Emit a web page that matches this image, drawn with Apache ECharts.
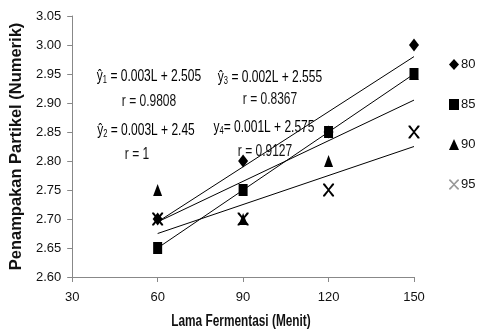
<!DOCTYPE html>
<html>
<head>
<meta charset="utf-8">
<script src="https://cdn.jsdelivr.net/npm/echarts@6/dist/echarts.min.js"></script>
<style>html,body{margin:0;padding:0;background:#fff}#c{width:477px;height:336px}</style>
</head>
<body>
<div id="c"></div>
<script>
// ---- data ----
const xValues = [60, 90, 120, 150];
const seriesNames = ['80', '85', '90', '95'];
const s80 = [2.70, 2.80, 2.85, 3.00];
const s85 = [2.65, 2.75, 2.85, 2.95];
const s90 = [2.75, 2.70, 2.80, 2.95];
const s95 = [2.70, 2.70, 2.75, 2.85];
const eqHat = ['ŷ', 'ŷ', 'ŷ', 'y'];
const eqSub = ['1', '2', '3', '4'];
const eqBody = [' = 0.003L + 2.505', ' = 0.003L + 2.45', ' = 0.002L + 2.555', '= 0.001L + 2.575'];
const rLabels = ['r = 0.9808', 'r = 1', 'r = 0.8367', 'r = 0.9127'];
const xTitle = 'Lama Fermentasi (Menit)';
const yTitle = 'Penampakan Partikel (Numerik)';

const allSeries = [s80, s85, s90, s95];
const FONT = '"Liberation Sans", Arial, sans-serif';

// least-squares trend line through each series (drawn between first and last x)
function trend(ys) {
  const n = xValues.length;
  const mx = xValues.reduce((a, b) => a + b, 0) / n;
  const my = ys.reduce((a, b) => a + b, 0) / n;
  let sxy = 0, sxx = 0;
  for (let i = 0; i < n; i++) { sxy += (xValues[i] - mx) * (ys[i] - my); sxx += (xValues[i] - mx) ** 2; }
  const b = sxy / sxx, a = my - b * mx;
  const x0 = xValues[0], x1 = xValues[n - 1];
  return [[x0, a + b * x0], [x1, a + b * x1]];
}

const xPath = 'path://M0,0L1.6,0L5,3.8L8.4,0L10,0L10,0.9L5.9,5L10,9.1L10,10L8.4,10L5,6.2L1.6,10L0,10L0,9.1L4.1,5L0,0.9Z';
const symbols = ['diamond', 'rect', 'triangle', xPath];
const sizes = [[10, 13], [9, 12], [9, 12], [11, 13]];

const series = [];
allSeries.forEach((ys, i) => {
  series.push({
    name: 't' + i, type: 'line', data: trend(ys), showSymbol: false, symbol: 'none',
    lineStyle: { color: '#000', width: 1 }, silent: true, z: 1
  });
});
allSeries.forEach((ys, i) => {
  series.push({
    name: seriesNames[i], type: 'scatter', symbol: symbols[i], symbolSize: sizes[i],
    data: xValues.map((x, k) => [x, ys[k]]),
    itemStyle: { color: '#000', opacity: 1 }, z: 3
  });
});

const eqPos = [[149, 77], [146, 131], [270, 78], [264, 128]];
const rPos = [[149, 102], [137, 155], [270, 100], [265, 152]];
const rich = {
  a: { fontFamily: FONT, fontSize: 16, color: '#111', lineHeight: 17 },
  s: { fontFamily: FONT, fontSize: 10, color: '#111', lineHeight: 10, verticalAlign: 'bottom' }
};
const graphics = [];
for (let i = 0; i < 4; i++) {
  graphics.push({
    type: 'text', x: eqPos[i][0], y: eqPos[i][1], scaleX: 0.75, z: 10,
    style: { text: '{a|' + eqHat[i] + '}{s|' + eqSub[i] + '}{a|' + eqBody[i] + '}', rich: rich, align: 'center', verticalAlign: 'middle' }
  });
  graphics.push({
    type: 'text', x: rPos[i][0], y: rPos[i][1], scaleX: 0.75, z: 10,
    style: { text: rLabels[i], font: '16px ' + FONT, fill: '#111', align: 'center', verticalAlign: 'middle' }
  });
}
graphics.push({
  type: 'text', x: 241, y: 322, scaleX: 0.74, z: 10,
  style: { text: xTitle, font: 'bold 16px ' + FONT, fill: '#111', align: 'center', verticalAlign: 'middle' }
});

const chart = echarts.init(document.getElementById('c'), null, { renderer: 'canvas' });
chart.setOption({
  animation: false,
  backgroundColor: '#fff',
  grid: { left: 68, right: 63, top: 16, bottom: 59, containLabel: false },
  xAxis: {
    type: 'value', min: 30, max: 150, interval: 30,
    axisLine: { show: true, lineStyle: { color: '#888', width: 1 } },
    axisTick: { show: true, inside: false, length: 5, lineStyle: { color: '#888' } },
    axisLabel: { fontFamily: FONT, fontSize: 13, color: '#111', margin: 14 },
    splitLine: { show: false }
  },
  yAxis: {
    type: 'value', min: 2.6, max: 3.05, interval: 0.05,
    name: yTitle, nameLocation: 'middle', nameGap: 36,
    nameTextStyle: { fontFamily: FONT, fontWeight: 'bold', fontSize: 16.5, color: '#111' },
    axisLine: { show: true, lineStyle: { color: '#888', width: 1 } },
    axisTick: { show: true, inside: false, length: 5, lineStyle: { color: '#888' } },
    axisLabel: { fontFamily: FONT, fontSize: 13, color: '#111', margin: 11, formatter: v => v.toFixed(2) },
    splitLine: { show: false }
  },
  legend: {
    orient: 'vertical', left: 444, top: 53, itemGap: 27, itemWidth: 10, itemHeight: 11,
    textStyle: { fontFamily: FONT, fontSize: 13, color: '#111', padding: [0, 0, 0, -3] },
    data: seriesNames.map((n, i) => i === 3 ? { name: n, itemStyle: { color: '#999' } } : { name: n }),
    selectedMode: false
  },
  graphic: graphics,
  series: series
});
</script>
</body>
</html>
